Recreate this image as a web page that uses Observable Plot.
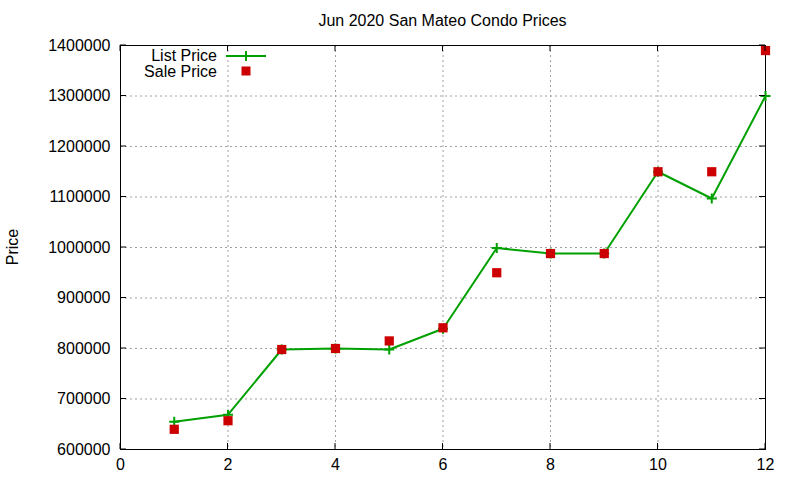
<!DOCTYPE html>
<html><head><meta charset="utf-8">
<script src="https://cdn.jsdelivr.net/npm/d3@7"></script>
<script src="https://cdn.jsdelivr.net/npm/@observablehq/plot@0.6"></script>
<style>body{margin:0;background:#fff}</style>
</head><body><div id="chart"></div>
<script>
const title = "Jun 2020 San Mateo Condo Prices";
const yLabel = "Price";
const months = [1,2,3,4,5,6,7,8,9,10,11,12];
const listPrice = [655000,669000,798000,800000,798000,839000,999000,988000,988000,1150000,1097000,1300000];
const salePrice = [640000,657000,798000,800000,815000,841000,950000,988000,988000,1150000,1150000,1390000];
const xTicks = [0,2,4,6,8,10,12];
const yTicks = [600000,700000,800000,900000,1000000,1100000,1200000,1300000,1400000];
const seriesNames = ["List Price","Sale Price"];

const listData = months.map((m,i)=>({x:m,y:listPrice[i]}));
const saleData = months.map((m,i)=>({x:m,y:salePrice[i]}));
const green = "#00a000", red = "#cc0000";
const thinPlus = {draw(ctx, size){ const r = Math.sqrt(size/Math.PI); ctx.moveTo(-r,0); ctx.lineTo(r,0); ctx.moveTo(0,-r); ctx.lineTo(0,r); }};

const W=800,H=480,ML=120,MR=35,MT=45,MB=31;
const font = "Liberation Sans, Arial, sans-serif";
const FS = 16;
const chart = Plot.plot({
  width:W, height:H, marginLeft:ML, marginRight:MR, marginTop:MT, marginBottom:MB,
  style:{fontFamily:font, fontSize:FS+"px", color:"#000", background:"#fff"},
  x:{domain:[0,12], ticks:xTicks},
  y:{domain:[600000,1400000], ticks:yTicks, tickFormat:d3.format("d")},
  marks:[
    Plot.gridX(xTicks,{stroke:"#a0a0a0", strokeOpacity:1, strokeDasharray:"2,3"}),
    Plot.gridY(yTicks,{stroke:"#a0a0a0", strokeOpacity:1, strokeDasharray:"2,3"}),
    Plot.axisX(xTicks,{anchor:"bottom", tickSize:0, tickPadding:9, label:null, fontSize:FS, tickFormat:d3.format("d")}),
    Plot.axisY(yTicks,{anchor:"left", tickSize:0, tickPadding:10, label:null, fontSize:FS, tickFormat:d3.format("d")}),
    Plot.frame({stroke:"#000", strokeWidth:1}),
    Plot.line(listData,{x:"x", y:"y", stroke:green, strokeWidth:2}),
    Plot.dot(listData,{x:"x", y:"y", symbol:thinPlus, r:5, stroke:green, strokeWidth:2, fill:"none"}),
    Plot.dot(saleData,{x:"x", y:"y", symbol:"square", r:5.2, fill:red, stroke:"none"})
  ]
});
document.getElementById("chart").append(chart);

// inward ticks (gnuplot style) on all four sides, via scales
const svg = d3.select(chart);
const xs = chart.scale("x"), ys = chart.scale("y");
const g = svg.append("g").attr("stroke","#000").attr("stroke-width",1);
const x0=ML, x1=W-MR, y0=MT, y1=H-MB;
xTicks.forEach(t=>{const px=xs.apply(t);
  g.append("line").attr("x1",px).attr("x2",px).attr("y1",y1).attr("y2",y1-6);
  g.append("line").attr("x1",px).attr("x2",px).attr("y1",y0).attr("y2",y0+6);});
yTicks.forEach(t=>{const py=ys.apply(t);
  g.append("line").attr("x1",x0).attr("x2",x0+6).attr("y1",py).attr("y2",py);
  g.append("line").attr("x1",x1).attr("x2",x1-6).attr("y1",py).attr("y2",py);});

// title and y label
svg.append("text").attr("x",(x0+x1)/2).attr("y",26).attr("text-anchor","middle")
  .attr("font-family",font).attr("font-size",FS).attr("fill","#000").text(title);
svg.append("text").attr("transform",`translate(18,${(y0+y1)/2}) rotate(-90)`).attr("text-anchor","middle")
  .attr("font-family",font).attr("font-size",FS).attr("fill","#000").text(yLabel);

// legend
const lg = svg.append("g").attr("font-family",font).attr("font-size",FS).attr("fill","#000");
lg.append("text").attr("x",217).attr("y",61).attr("text-anchor","end").text(seriesNames[0]);
lg.append("text").attr("x",217).attr("y",77).attr("text-anchor","end").text(seriesNames[1]);
lg.append("line").attr("x1",226).attr("x2",266).attr("y1",56).attr("y2",56).attr("stroke",green).attr("stroke-width",2);
lg.append("path").attr("d","M241,56H251M246,51V61").attr("stroke",green).attr("stroke-width",2);
lg.append("rect").attr("x",241.5).attr("y",66.5).attr("width",9).attr("height",9).attr("fill",red);
</script></body></html>
